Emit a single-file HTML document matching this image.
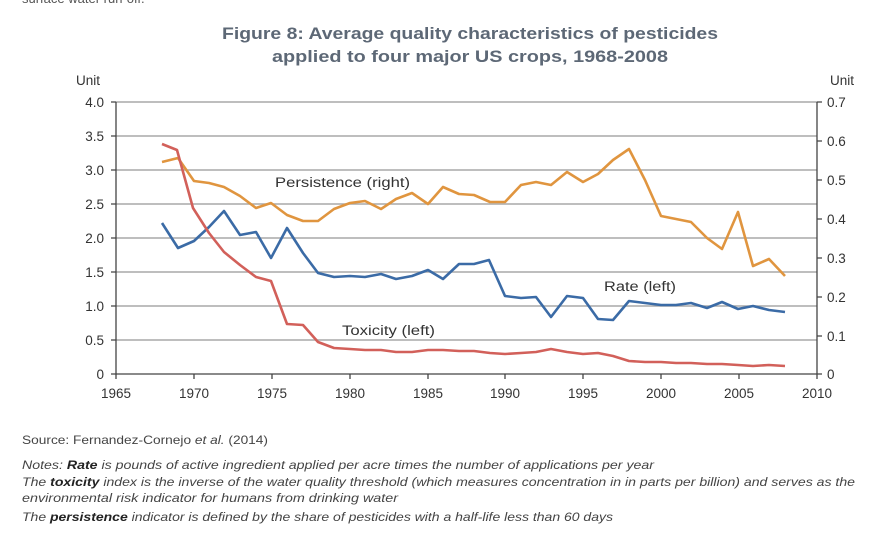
<!DOCTYPE html>
<html><head><meta charset="utf-8"><style>
body{margin:0;background:#fff;width:884px;height:550px;overflow:hidden;font-family:"Liberation Sans",sans-serif}
svg{position:absolute;left:0;top:0}
</style></head><body>
<svg width="884" height="550" viewBox="0 0 884 550" font-family="Liberation Sans, sans-serif">
<text x="22" y="3" font-size="13" fill="#555">surface water run-off.</text>
<text x="222" y="39" font-size="17" font-weight="bold" fill="#5d6876" textLength="496" lengthAdjust="spacingAndGlyphs">Figure 8: Average quality characteristics of pesticides</text>
<text x="272" y="62" font-size="17" font-weight="bold" fill="#5d6876" textLength="396" lengthAdjust="spacingAndGlyphs">applied to four major US crops, 1968-2008</text>
<text x="76" y="85" font-size="13.5" fill="#333">Unit</text>
<text x="830" y="85" font-size="13.5" fill="#333">Unit</text>
<g stroke="#a8a8a8" stroke-width="1.5">
<line x1="116" x2="817" y1="102" y2="102"/><line x1="116" x2="817" y1="136" y2="136"/><line x1="116" x2="817" y1="170" y2="170"/><line x1="116" x2="817" y1="204" y2="204"/><line x1="116" x2="817" y1="238" y2="238"/><line x1="116" x2="817" y1="272" y2="272"/><line x1="116" x2="817" y1="306" y2="306"/><line x1="116" x2="817" y1="340" y2="340"/>
</g>
<g stroke="#444" stroke-width="1.3" fill="none">
<line x1="116" y1="102" x2="116" y2="374"/><line x1="116" y1="374" x2="817" y2="374"/><line x1="817" y1="102" x2="817" y2="374"/>
<path d="M111 102h5M111 136h5M111 170h5M111 204h5M111 238h5M111 272h5M111 306h5M111 340h5M111 374h5"/>
<path d="M817 102h5M817 141h5M817 180h5M817 219h5M817 258h5M817 297h5M817 336h5M817 374h5"/>
<path d="M116 374v5M194 374v5M272 374v5M350 374v5M428 374v5M505 374v5M583 374v5M661 374v5M739 374v5M817 374v5"/>
</g>
<g font-size="13.5" fill="#333" text-anchor="end">
<text x="104" y="107">4.0</text><text x="104" y="141">3.5</text><text x="104" y="175">3.0</text><text x="104" y="209">2.5</text><text x="104" y="243">2.0</text><text x="104" y="277">1.5</text><text x="104" y="311">1.0</text><text x="104" y="345">0.5</text><text x="104" y="379">0</text>
</g>
<g font-size="13.5" fill="#333">
<text x="827" y="107">0.7</text><text x="827" y="146">0.6</text><text x="827" y="185">0.5</text><text x="827" y="224">0.4</text><text x="827" y="263">0.3</text><text x="827" y="302">0.2</text><text x="827" y="341">0.1</text><text x="827" y="379">0</text>
</g>
<g font-size="13.5" fill="#333" text-anchor="middle">
<text x="116" y="398">1965</text><text x="194" y="398">1970</text><text x="272" y="398">1975</text><text x="350" y="398">1980</text><text x="428" y="398">1985</text><text x="505" y="398">1990</text><text x="583" y="398">1995</text><text x="661" y="398">2000</text><text x="739" y="398">2005</text><text x="817" y="398">2010</text>
</g>
<g fill="none" stroke-width="2.6" stroke-linejoin="round">
<polyline stroke="#e0953f" points="162,162 178,158 194,181 209,183 224,187 240,196 256,208 271,203 287,215 303,221 318,221 334,209 350,203 365,201 381,209 396,199 412,193 428,204 443,187 459,194 474,195 490,202 505,202 521,185 536,182 551,185 567,172 583,182 598,174 613,160 629,149 645,180 661,216 676,219 691,222 707,238 722,249 738,212 753,266 769,259 785,276"/>
<polyline stroke="#3b6ba6" points="162,223 178,248 194,241 209,227 224,211 240,235 256,232 271,258 287,228 303,253 318,273 334,277 350,276 365,277 381,274 396,279 412,276 428,270 443,279 459,264 474,264 489,260 505,296 521,298 536,297 551,317 567,296 583,298 598,319 613,320 629,301 645,303 661,305 676,305 691,303 707,308 722,302 738,309 753,306 769,310 785,312"/>
<polyline stroke="#d2605a" points="162,144 177,150 193,208 209,233 224,252 240,265 256,277 271,281 287,324 303,325 318,342 334,348 350,349 365,350 381,350 396,352 412,352 428,350 443,350 459,351 474,351 490,353 505,354 521,353 536,352 551,349 567,352 583,354 598,353 613,356 629,361 645,362 661,362 676,363 691,363 707,364 722,364 738,365 753,366 769,365 785,366"/>
</g>
<g font-size="13.5" fill="#333" lengthAdjust="spacingAndGlyphs">
<text x="275" y="187" textLength="135" lengthAdjust="spacingAndGlyphs">Persistence (right)</text>
<text x="604" y="291" textLength="72" lengthAdjust="spacingAndGlyphs">Rate (left)</text>
<text x="342" y="335" textLength="93" lengthAdjust="spacingAndGlyphs">Toxicity (left)</text>
</g>
<g font-size="12" fill="#444">
<text x="22" y="444" textLength="246" lengthAdjust="spacingAndGlyphs">Source: Fernandez-Cornejo <tspan font-style="italic">et al.</tspan> (2014)</text>
<g font-style="italic">
<text x="22" y="469" textLength="632" lengthAdjust="spacingAndGlyphs">Notes: <tspan font-weight="bold" fill="#222">Rate</tspan> is pounds of active ingredient applied per acre times the number of applications per year</text>
<text x="22" y="486" textLength="833" lengthAdjust="spacingAndGlyphs">The <tspan font-weight="bold" fill="#222">toxicity</tspan> index is the inverse of the water quality threshold (which measures concentration in in parts per billion) and serves as the</text>
<text x="22" y="502" textLength="376" lengthAdjust="spacingAndGlyphs">environmental risk indicator for humans from drinking water</text>
<text x="22" y="521" textLength="591" lengthAdjust="spacingAndGlyphs">The <tspan font-weight="bold" fill="#222">persistence</tspan> indicator is defined by the share of pesticides with a half-life less than 60 days</text>
</g></g>
</svg>
</body></html>
